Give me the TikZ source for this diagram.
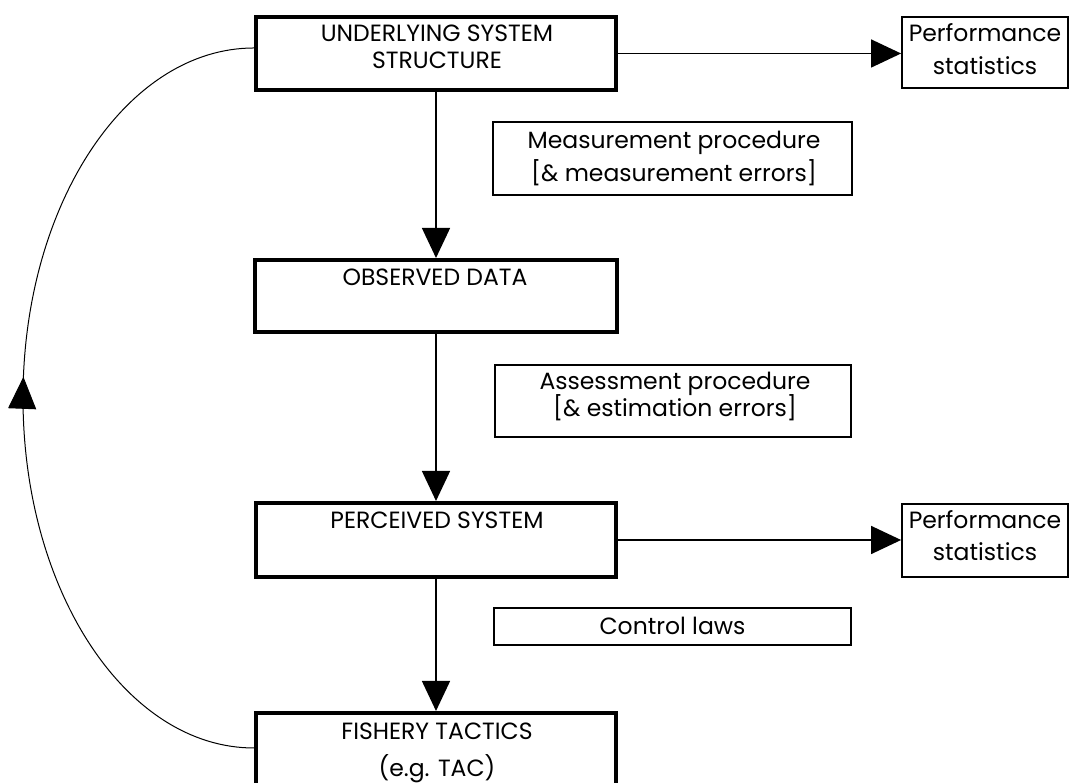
\documentclass[tikz,border=0pt]{standalone}
\usepackage{fontspec}
\setmainfont{Poppins}
\usetikzlibrary{arrows.meta,decorations.markings}
\begin{document}
\begin{tikzpicture}[x=1pt,y=1pt,
  mainbox/.style={draw, line width=4pt, minimum width=360pt, inner sep=0pt},
  sidebox/.style={draw, line width=1.8pt, inner sep=0pt},
  lbl/.style={anchor=base, inner sep=0pt, font=\fontsize{23.5}{28}\selectfont},
  conn/.style={line width=1.4pt, -{Triangle[length=30pt,width=28pt]}},
]
\useasboundingbox (0,0) rectangle (1070,783);
\node[mainbox, minimum height=73pt] (usys) at (436,729.5) {};
\node[mainbox, minimum width=362pt, minimum height=72pt] (obs) at (436,487) {};
\node[mainbox, minimum height=74pt] (perc) at (436,243) {};
\node[mainbox, minimum height=72pt] (fish) at (436,34) {};
\node[sidebox, minimum width=359pt, minimum height=73pt] (meas) at (672.5,624.5) {};
\node[sidebox, minimum width=356pt, minimum height=72pt] (assess) at (673,382) {};
\node[sidebox, minimum width=357pt, minimum height=37pt] (ctrl) at (672.5,156.5) {};
\node[sidebox, minimum width=166pt, minimum height=71pt] (perf1) at (985,730.5) {};
\node[sidebox, minimum width=166pt, minimum height=73pt] (perf2) at (985,242.5) {};

\node[lbl] (usysA) at (437,741.5) {UNDERLYING SYSTEM};
\node[lbl] (usysB) at (437,714.5) {STRUCTURE};
\node[lbl] (obsA) at (435,497.5) {OBSERVED DATA};
\node[lbl] (percA) at (437,254.5) {PERCEIVED SYSTEM};
\node[lbl] (fishA) at (437,43.5) {FISHERY TACTICS};
\node[lbl] (fishB) at (437,6.5) {(e.g. TAC)};
\node[lbl] (measA) at (674,634.7) {Measurement procedure};
\node[lbl] (measB) at (674,601.3) {[\& measurement errors]};
\node[lbl] (assA) at (675,393) {Assessment procedure};
\node[lbl] (assB) at (675,366.3) {[\& estimation errors]};
\node[lbl] (ctrlA) at (672.5,148.5) {Control laws};
\node[lbl] (perf1A) at (985,741.3) {Performance};
\node[lbl] (perf1B) at (985,708) {statistics};
\node[lbl] (perf2A) at (985,254.7) {Performance};
\node[lbl] (perf2B) at (985,222) {statistics};

\draw[conn] (usys.south) -- (obs.north);
\draw[conn] (obs.south) -- (perc.north);
\draw[conn] (perc.south) -- (fish.north);
\draw[conn] (usys.east) -- (usys.east -| perf1.west);
\draw[conn] (perc.east) -- (perc.east -| perf2.west);

\draw[line width=1pt, postaction={decorate},
  decoration={markings, mark=at position 0.523 with {\arrow{Triangle[length=32pt,width=28pt]}}}]
  ([yshift=1pt]fish.west) arc[start angle=270, end angle=90, x radius=231, y radius=350];
\end{tikzpicture}
\end{document}
